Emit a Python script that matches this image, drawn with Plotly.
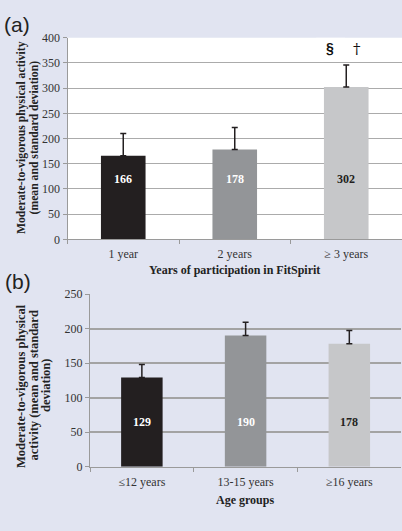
import plotly.graph_objects as go

# Panel (a): years of participation in FitSpirit
years_cats = ["1 year", "2 years", "\u2265 3 years"]
years_mean = [166, 178, 302]
years_sd = [44, 44, 44]

# Panel (b): age groups
age_cats = ["\u226412 years", "13-15 years", "\u226516 years"]
age_mean = [129, 190, 178]
age_sd = [19, 19, 19]

bar_colors = ["#231f20", "#939598", "#c6c7c9"]
label_colors = ["white", "white", "#231f20"]

BG = "#e1e4f1"
SERIF = "Liberation Serif, Times New Roman, serif"
SANS = "Liberation Sans, Arial, sans-serif"
W, H = 402, 531


def py(px):
    """Convert a pixel row (from top) to paper coordinates."""
    return 1 - px / H


def px_x(px):
    return px / W


fig = go.Figure()

err_style = dict(type="data", symmetric=False, color="#231f20", thickness=1.5, width=3)

fig.add_trace(go.Bar(
    x=years_cats, y=years_mean, marker_color=bar_colors, marker_line_width=0,
    width=0.4, error_y=dict(array=years_sd, arrayminus=[0] * 3, **err_style),
    xaxis="x", yaxis="y", showlegend=False, hoverinfo="skip",
))
fig.add_trace(go.Bar(
    x=age_cats, y=age_mean, marker_color=bar_colors, marker_line_width=0,
    width=0.4, error_y=dict(array=age_sd, arrayminus=[0] * 3, **err_style),
    xaxis="x2", yaxis="y2", showlegend=False, hoverinfo="skip",
))

annotations = []
mid = dict(xanchor="center", yanchor="middle", showarrow=False)
# value labels inside bars
for i, (c, v) in enumerate(zip(years_cats, years_mean)):
    annotations.append(dict(x=c, y=120, xref="x", yref="y", text=f"<b>{v}</b>",
                            font=dict(family=SERIF, size=12, color=label_colors[i]), **mid))
for i, (c, v) in enumerate(zip(age_cats, age_mean)):
    annotations.append(dict(x=c, y=64, xref="x2", yref="y2", text=f"<b>{v}</b>",
                            font=dict(family=SERIF, size=12, color=label_colors[i]), **mid))

# significance markers above the third bar
annotations.append(dict(x=1.85, y=379, xref="x", yref="y", text="<b>\u00a7</b>",
                        font=dict(family=SANS, size=14, color="#111111"), **mid))
annotations.append(dict(x=2.1, y=377, xref="x", yref="y", text="\u2020",
                        font=dict(family="DejaVu Serif, serif", size=15, color="#111111"), **mid))

# panel letters
annotations.append(dict(x=px_x(2), y=py(11), xref="paper", yref="paper", text="(a)", showarrow=False,
                        xanchor="left", yanchor="top", font=dict(family=SANS, size=21, color="#222")))
annotations.append(dict(x=px_x(3), y=py(268), xref="paper", yref="paper", text="(b)", showarrow=False,
                        xanchor="left", yanchor="top", font=dict(family=SANS, size=21, color="#222")))

# y-axis titles, one annotation per line for tight line spacing
title_a = ["Moderate-to-vigorous physical activity", "(mean and standard deviation)"]
for line, xc in zip(title_a, [21, 33.5]):
    annotations.append(dict(x=px_x(xc), y=py(138), xref="paper", yref="paper",
                            text=f"<b>{line}</b>", textangle=-90,
                            font=dict(family=SERIF, size=11.7, color="#222"), **mid))
title_b = ["Moderate-to-vigorous physical", "activity (mean and standard", "deviation)"]
for line, xc in zip(title_b, [21, 33.5, 46]):
    annotations.append(dict(x=px_x(xc), y=py(386), xref="paper", yref="paper",
                            text=f"<b>{line}</b>", textangle=-90,
                            font=dict(family=SERIF, size=12.5, color="#222"), **mid))

# x-axis titles
annotations.append(dict(x=px_x(234), y=py(270), xref="paper", yref="paper",
                        text="<b>Years of participation in FitSpirit</b>",
                        font=dict(family=SERIF, size=12, color="#222"), **mid))
annotations.append(dict(x=px_x(245), y=py(499.5), xref="paper", yref="paper",
                        text="<b>Age groups</b>",
                        font=dict(family=SERIF, size=12, color="#222"), **mid))

shapes = [
    # white plotting area for panel (a)
    dict(type="rect", xref="x domain", yref="y domain", x0=0, x1=1, y0=0, y1=1,
         fillcolor="white", line_width=0, layer="below"),
    # small white patch above the third bar
    dict(type="rect", xref="x", yref="y", x0=1.73, x1=1.99, y0=400, y1=414,
         fillcolor="white", line_width=0, layer="below"),
]

tickfont = dict(family=SERIF, size=12, color="#333")
axis_common = dict(showline=True, linecolor="#9a9a9a", linewidth=1, ticks="outside",
                   ticklen=4, tickcolor="#9a9a9a", tickfont=tickfont, zeroline=False)

fig.update_layout(
    width=W, height=H, margin=dict(l=0, r=0, t=0, b=0),
    paper_bgcolor=BG, plot_bgcolor=BG, bargap=0.6,
    annotations=annotations, shapes=shapes,
    xaxis=dict(domain=[67.5 / W, 1], anchor="y", range=[-0.5, 2.5], tickson="boundaries",
               showgrid=False, automargin=False, ticklabelstandoff=3, **axis_common),
    yaxis=dict(domain=[py(239.3), py(37.7)], anchor="x", range=[0, 400], dtick=50,
               showgrid=True, gridcolor="#ababab", gridwidth=1, automargin=False, **axis_common),
    xaxis2=dict(domain=[90 / W, 0.998], anchor="y2", range=[-0.5, 2.5], tickson="boundaries",
                showgrid=False, automargin=False, ticklabelstandoff=4, **axis_common),
    yaxis2=dict(domain=[py(466.7), py(294)], anchor="x2", range=[0, 250], dtick=50,
                showgrid=True, gridcolor="#a3a3a3", gridwidth=1.5, automargin=False, **axis_common),
)

fig.write_html("out.html")
